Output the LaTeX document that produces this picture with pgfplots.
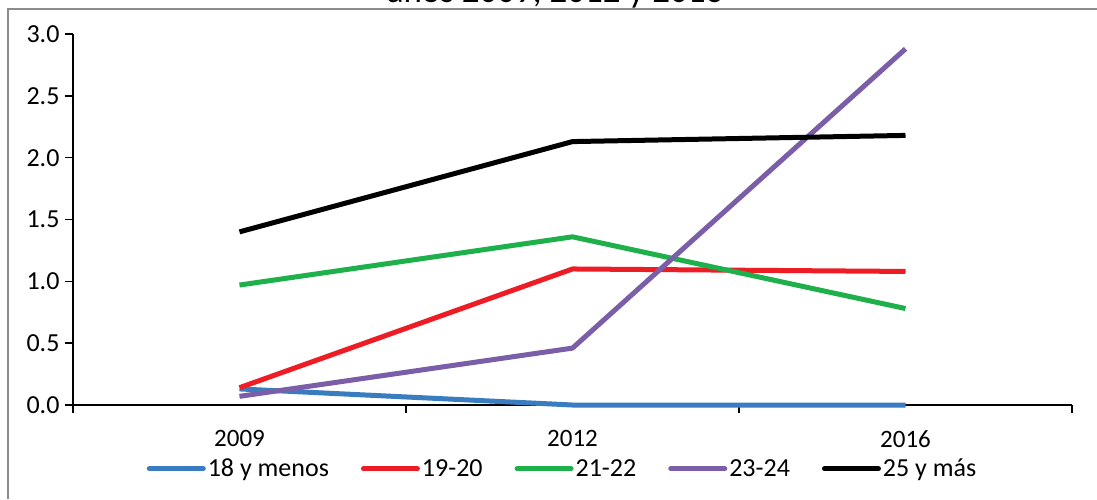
\documentclass[border=0pt]{standalone}
\usepackage{fontspec}
\setmainfont{Carlito}
\usepackage{pgfplots}
\pgfplotsset{compat=1.18}
\definecolor{cblue}{HTML}{3A7CC0}
\definecolor{cred}{HTML}{EE1C25}
\definecolor{cgreen}{HTML}{1DB04B}
\definecolor{cpurple}{HTML}{7B5EA8}
\definecolor{cframe}{HTML}{8C8C8C}
\begin{document}
\begin{tikzpicture}[x=1pt,y=1pt]
\useasboundingbox (0,0) rectangle (1097,499);
\clip (0,0) rectangle (1097,499);
\fill[white] (0,0) rectangle (1097,499);
\draw[cframe, line width=2.2pt] (8,0) -- (8,490) -- (1100,490);
\node[anchor=base, font=\fontsize{35}{40}\selectfont] at (555,496) {años 2009, 2012 y 2016};
\begin{axis}[
  at={(73pt,94pt)}, anchor=south west,
  scale only axis, width=999pt, height=371pt,
  xmin=-0.5, xmax=2.5, ymin=0, ymax=3,
  xtick={-0.5,0.5,1.5,2.5}, xticklabels={2009,2012,2016},
  x tick label as interval,
  ytick={0,0.5,...,3.0},
  /pgf/number format/fixed, /pgf/number format/fixed zerofill, /pgf/number format/precision=1,
  /pgf/number format/assume math mode=true,
  axis x line=bottom, axis y line=left,
  axis line style={black, line width=1.6pt, -},
  tick style={black, line width=1.6pt},
  major tick length=8pt,
  tick align=outside,
  tick label style={font=\fontsize{26}{30}\selectfont},
  yticklabel style={xshift=-2pt},
  xticklabel style={font=\fontsize{25}{29}\selectfont, yshift=-14pt},
  legend columns=5,
  legend style={draw=none, fill=none, at={(0.49,-0.14)}, anchor=north,
    font=\fontsize{26}{30}\selectfont, /tikz/every even column/.append style={column sep=30pt},
    inner sep=0pt},
  legend image code/.code={\draw[#1, line cap=round] (0pt,0pt) -- (54pt,0pt);},
  clip=false,
  every axis plot/.append style={line width=5pt, line join=round},
]
\addplot[cblue] coordinates {(0,0.13) (1,0) (2,0)};
\addlegendentry{18 y menos}
\addplot[cred] coordinates {(0,0.14) (1,1.10) (2,1.08)};
\addlegendentry{19-20}
\addplot[cgreen] coordinates {(0,0.97) (1,1.36) (2,0.78)};
\addlegendentry{21-22}
\addplot[cpurple] coordinates {(0,0.07) (1,0.46) (2,2.88)};
\addlegendentry{23-24}
\addplot[black] coordinates {(0,1.40) (1,2.13) (2,2.18)};
\addlegendentry{25 y más}
\end{axis}
\end{tikzpicture}
\end{document}
